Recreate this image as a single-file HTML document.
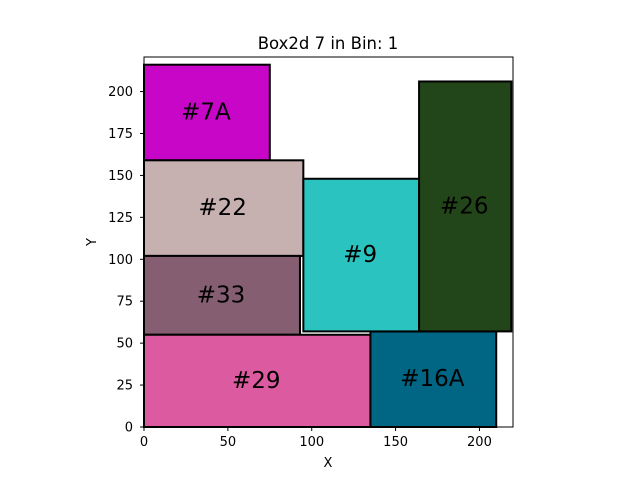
<!DOCTYPE html>
<html><head><meta charset="utf-8"><style>
body{margin:0;background:#fff;}
svg{display:block;font-family:"DejaVu Sans","Liberation Sans",sans-serif;}
</style></head><body>
<svg id="chart" width="640" height="480">
<rect x="0" y="0" width="640" height="480" fill="#fff"/>
<text x="328" y="49" text-anchor="middle" font-size="16.5">Box2d 7 in Bin: 1</text>
<g id="boxes"></g>
<rect x="144" y="57" width="369" height="370" fill="none" stroke="#000" stroke-width="1"/>
<g id="axes"></g>
<text x="328" y="467" text-anchor="middle" font-size="13">X</text>
<text x="96" y="242" text-anchor="middle" font-size="13" transform="rotate(-90 96 242)">Y</text>
</svg>
<script>
const labels=["#7A","#22","#33","#29","#16A","#9","#26"];
const xs=[0,0,0,0,135,95,164];
const ys=[159,102,55,0,0,57,57];
const ws=[75,95,93,135,75,69,55];
const hs=[57,57,47,55,57,91,149];
const colors=["#c806c8","#c6b1b0","#855e71","#dc5ba0","#016584","#2bc3bf","#224519"];
const xTicks=[0,50,100,150,200];
const yTicks=[0,25,50,75,100,125,150,175,200];
const NS="http://www.w3.org/2000/svg";
const X0=144,Y0=427,S=369/220;
function sx(v){return X0+v*S;}
function sy(v){return Y0-v*S;}
const g=document.getElementById('boxes');
for(let i=0;i<labels.length;i++){
  const r=document.createElementNS(NS,'rect');
  r.setAttribute('x',sx(xs[i]));r.setAttribute('y',sy(ys[i]+hs[i]));
  r.setAttribute('width',ws[i]*S);r.setAttribute('height',hs[i]*S);
  r.setAttribute('fill',colors[i]);r.setAttribute('stroke','#000');r.setAttribute('stroke-width','2');
  
  
  g.appendChild(r);
  const t=document.createElementNS(NS,'text');
  t.setAttribute('x',sx(xs[i]+ws[i]/2)-1);t.setAttribute('y',sy(ys[i]+hs[i]/2)+7);
  t.setAttribute('text-anchor','middle');t.setAttribute('font-size','23');
  t.textContent=labels[i];
  
  
  g.appendChild(t);
}
const a=document.getElementById('axes');
xTicks.forEach(v=>{
  const l=document.createElementNS(NS,'line');
  l.setAttribute('x1',sx(v));l.setAttribute('x2',sx(v));l.setAttribute('y1',427);l.setAttribute('y2',431);l.setAttribute('stroke','#000');
  
  
  a.appendChild(l);
  const t=document.createElementNS(NS,'text');
  t.setAttribute('x',sx(v));t.setAttribute('y',446);t.setAttribute('text-anchor','middle');t.setAttribute('font-size','13');
  t.textContent=v;
  
  
  a.appendChild(t);
});
yTicks.forEach(v=>{
  const l=document.createElementNS(NS,'line');
  l.setAttribute('x1',140);l.setAttribute('x2',144);l.setAttribute('y1',sy(v));l.setAttribute('y2',sy(v));l.setAttribute('stroke','#000');
  
  
  a.appendChild(l);
  const t=document.createElementNS(NS,'text');
  t.setAttribute('x',133);t.setAttribute('y',sy(v)+4.5);t.setAttribute('text-anchor','end');t.setAttribute('font-size','13');
  t.textContent=v;
  
  
  a.appendChild(t);
});
</script>
</body></html>
